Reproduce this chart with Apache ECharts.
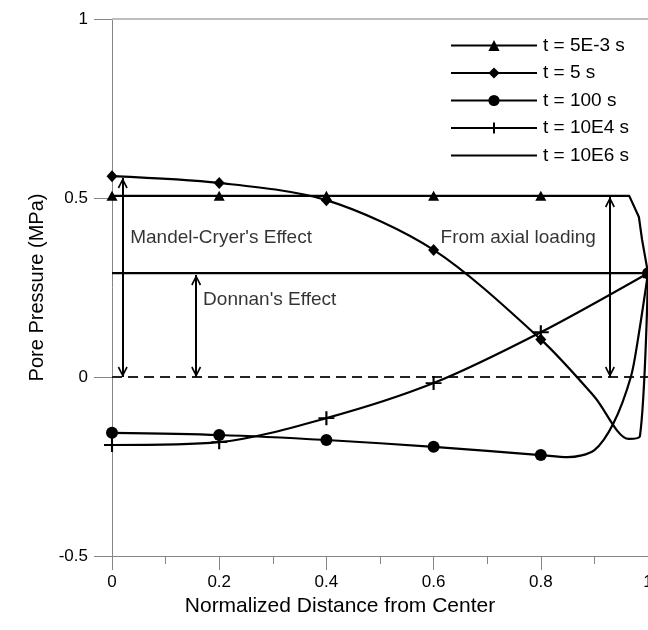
<!DOCTYPE html>
<html><head><meta charset="utf-8">
<script src="https://cdn.jsdelivr.net/npm/echarts@6/dist/echarts.min.js"></script>
<style>html,body{margin:0;padding:0;background:#fff;overflow:hidden}#c{width:648px;height:630px}</style>
</head><body><div id="c"></div>
<script>
// ---- data ----
const seriesNames = ['t = 5E-3 s', 't = 5 s', 't = 100 s', 't = 10E4 s', 't = 10E6 s'];
const xTickValues = [0, 0.2, 0.4, 0.6, 0.8, 1];
const yTickValues = [-0.5, 0, 0.5, 1];
const markerX = [0, 0.2, 0.4, 0.6, 0.8, 1];
// [normalized distance, pore pressure MPa]
const t5em3 = [[0,0.506],[0.2,0.506],[0.4,0.506],[0.6,0.506],[0.8,0.506],[0.965,0.506],[0.983,0.447],[0.989,0.383],[1,0.29]];
const t5 = [[0,0.561],[0.2,0.542],[0.4,0.494],[0.6,0.355],[0.8,0.105],[0.9,-0.055],[0.964,-0.173],[0.985,-0.165],[1,0.29]];
const t100 = [[0,-0.156],[0.2,-0.162],[0.4,-0.176],[0.6,-0.195],[0.8,-0.218],[0.85,-0.224],[0.9,-0.204],[0.936,-0.128],[0.968,0],[0.981,0.103],[1,0.29]];
const t10e4 = [[0,-0.19],[0.2,-0.182],[0.4,-0.115],[0.6,-0.017],[0.8,0.125],[1,0.29]];
const t10e6 = [[0,0.29],[1,0.29]];
const zeroLine = [[0,0],[1,0]];
// double arrows: [x, yFrom, yTo]
const arrows = [[0.02,0,0.556],[0.157,0,0.285],[0.929,0,0.503]];
// annotation texts: [x, y, text]
const notes = [[0.034,0.388,"Mandel-Cryer's Effect"],[0.17,0.215,"Donnan's Effect"],[0.613,0.388,"From axial loading"]];

// ---- styling ----
const FONT = 'Liberation Sans, Arial, sans-serif';
const BLACK = '#000';
const AXIS = '#868686';
const plusPath = 'path://M5,0 L5,10 M0,5 L10,5';
const arrowHead = 'path://M5,10 L10,19.5 L8.6,20.5 L5,13.5 L1.4,20.5 L0,19.5 Z M5,0 L5.02,0 L5,0.02 Z';
const plainLineIcon = 'path://M0,0 L0.01,0 L0,0.01 Z M0,5.9 L86,5.9 L86,8.1 L0,8.1 Z M0,14 L0.01,14 L0,13.99 Z';

function curve(name, pts, sym, size, smooth, extraItem) {
  return {
    name: name, type: 'line', symbol: sym, symbolSize: size,
    smooth: smooth,
    showAllSymbol: true,
    lineStyle: {color: BLACK, width: 2.2},
    itemStyle: Object.assign({color: BLACK}, extraItem || {}),
    data: pts.map(p => markerX.indexOf(p[0]) >= 0 && sym !== 'none'
      ? {value: p} : {value: p, symbol: 'none'}),
    z: 3
  };
}

const series = [
  curve(seriesNames[0], t5em3, 'triangle', [11, 10], false),
  curve(seriesNames[1], t5, 'diamond', [11, 12], 0.3),
  curve(seriesNames[2], t100, 'circle', 12, 0.3),
  curve(seriesNames[3], t10e4, plusPath, [16, 14], 0.3, {color: 'transparent', borderColor: BLACK, borderWidth: 2}),
  curve(seriesNames[4], t10e6, 'none', 0, false),
  {
    type: 'line', data: zeroLine, symbol: 'none', silent: true,
    lineStyle: {color: '#222', width: 2, type: [10, 6]}, z: 2,
    markLine: {
      silent: true, symbol: ['none', 'none'], label: {show: false},
      lineStyle: {color: '#bdbdbd', width: 2, type: 'solid'},
      data: [[{coord: [0, 1]}, {coord: [1, 1]}]]
    }
  },
  {
    type: 'line', data: [], symbol: 'none', silent: true,
    markLine: {
      silent: true, symbol: [arrowHead, arrowHead], symbolSize: [10, 21],
      label: {show: false},
      lineStyle: {color: BLACK, width: 2, type: 'solid'},
      data: arrows.map(a => [{coord: [a[0], a[1]]}, {coord: [a[0], a[2]]}])
    }
  },
  {
    type: 'scatter', symbolSize: 0, silent: true,
    data: notes.map(n => ({value: [n[0], n[1]], name: n[2]})),
    label: {show: true, position: 'right', distance: 0, formatter: p => p.name,
      color: BLACK, fontSize: 19, fontFamily: FONT}
  }
];

const chart = echarts.init(document.getElementById('c'), null, {renderer: 'canvas'});
chart.setOption({
  animation: false,
  backgroundColor: '#fff',
  grid: {left: 112, top: 19, right: 0, bottom: 74, containLabel: false, outerBoundsMode: 'none'},
  legend: {
    data: seriesNames.map((n, i) => i === 4 ? {name: n, icon: plainLineIcon} : {name: n}),
    orient: 'vertical', left: 445, top: 31,
    itemWidth: 86, itemHeight: 14, itemGap: 8.5,
    textStyle: {fontSize: 19, fontFamily: FONT, color: BLACK, padding: [0, 0, 0, 1]}
  },
  xAxis: {
    type: 'value', min: 0, max: 1, interval: 0.2,
    name: 'Normalized Distance from Center', nameLocation: 'middle', nameGap: 35,
    nameTextStyle: {fontSize: 21, fontFamily: FONT, color: BLACK, padding: [0, 80, 0, 0]},
    axisLine: {onZero: false, lineStyle: {color: AXIS, width: 1}},
    axisTick: {length: 14, lineStyle: {color: AXIS}},
    minorTick: {show: true, splitNumber: 2, length: 8, lineStyle: {color: AXIS}},
    splitLine: {show: false},
    axisLabel: {fontSize: 17, fontFamily: FONT, color: BLACK, margin: 18, showMaxLabel: true,
      formatter: v => String(xTickValues.find(t => Math.abs(t - v) < 1e-9) ?? v)}
  },
  yAxis: {
    type: 'value', min: -0.5, max: 1, interval: 0.5,
    name: 'Pore Pressure (MPa)', nameLocation: 'middle', nameGap: 64,
    nameTextStyle: {fontSize: 20, fontFamily: FONT, color: BLACK},
    axisLine: {show: true, onZero: false, lineStyle: {color: AXIS, width: 1}},
    axisTick: {show: true, length: 18, lineStyle: {color: AXIS}},
    splitLine: {show: false},
    axisLabel: {fontSize: 17, fontFamily: FONT, color: BLACK, margin: 24,
      formatter: v => String(yTickValues.find(t => Math.abs(t - v) < 1e-9) ?? v)}
  },
  series: series
});
</script>
</body></html>
